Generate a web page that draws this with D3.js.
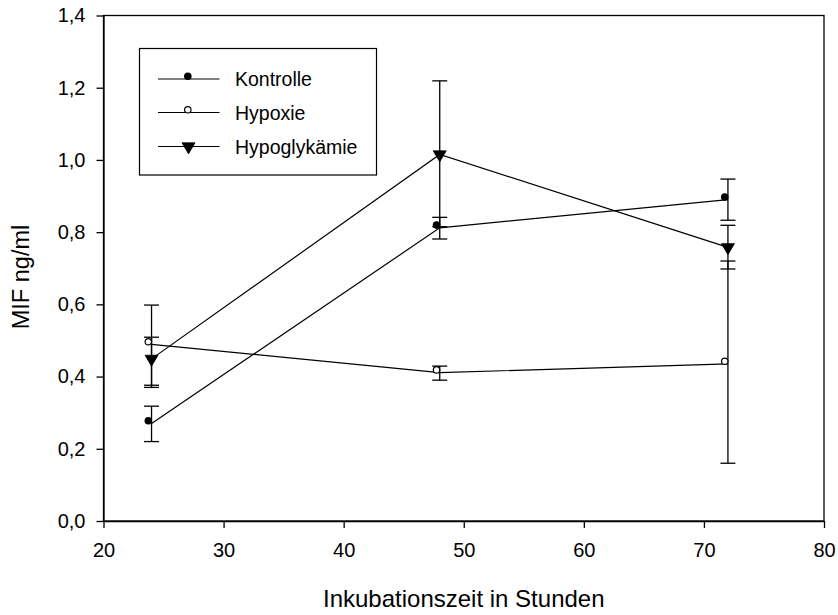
<!DOCTYPE html>
<html>
<head>
<meta charset="utf-8">
<script src="https://cdn.jsdelivr.net/npm/d3@7"></script>
<style>
  html, body { margin: 0; padding: 0; background: #fff; }
  svg { display: block; }
  text { font-family: "Liberation Sans", Arial, sans-serif; fill: #000; }
</style>
</head>
<body>
<svg id="chart" width="838" height="615"></svg>
<script>
// Incubation times (hours)
const hours = [24, 48, 72];

// Series: mean MIF (ng/ml) and upper / lower error-bar ends
const series = ["Kontrolle", "Hypoxie", "Hypoglykämie"];
const kontrolleMean  = [0.27, 0.812, 0.89];
const kontrolleUpper = [0.318, 0.841, 0.947];
const kontrolleLower = [0.22, 0.781, 0.833];
const hypoxieMean    = [0.489, 0.411, 0.435];
const hypoxieUpper   = [0.509, 0.429, 0.72];
const hypoxieLower   = [0.37, 0.39, 0.16];
const hypoglyMean    = [0.449, 1.015, 0.758];
const hypoglyUpper   = [0.598, 1.219, 0.819];
const hypoglyLower   = [0.376, 0.815, 0.698];

// Axis ticks and titles
const xTicks = [20, 30, 40, 50, 60, 70, 80];
const yTicks = [0, 0.2, 0.4, 0.6, 0.8, 1.0, 1.2, 1.4];
const xTitle = "Inkubationszeit in Stunden";
const yTitle = "MIF ng/ml";

const symbols = ["dot", "circle", "triangle"];
const table = [
  { name: series[0], mean: kontrolleMean, upper: kontrolleUpper, lower: kontrolleLower, sym: symbols[0] },
  { name: series[1], mean: hypoxieMean,   upper: hypoxieUpper,   lower: hypoxieLower,   sym: symbols[1] },
  { name: series[2], mean: hypoglyMean,   upper: hypoglyUpper,   lower: hypoglyLower,   sym: symbols[2] }
];

const svg = d3.select("#chart");
const plotL = 103.5, plotR = 824, plotT = 15.5, plotB = 521;

const x = d3.scaleLinear().domain([20, 80]).range([plotL, plotR]);
const y = d3.scaleLinear().domain([0, 1.4]).range([plotB, plotT]);
const fmt = v => d3.format(".1f")(v).replace(".", ",");

// frame
svg.append("rect")
  .attr("x", plotL).attr("y", plotT)
  .attr("width", plotR - plotL).attr("height", plotB - plotT)
  .attr("fill", "none").attr("stroke", "#000").attr("stroke-width", 1.3);

// axes
const xAxis = d3.axisBottom(x).tickValues(xTicks).tickFormat(d3.format("d"))
  .tickSize(7).tickPadding(15).tickSizeOuter(0);
const yAxis = d3.axisLeft(y).tickValues(yTicks).tickFormat(fmt)
  .tickSize(7).tickPadding(11).tickSizeOuter(0);

const gx = svg.append("g").attr("transform", `translate(0,${plotB})`).call(xAxis);
const gy = svg.append("g").attr("transform", `translate(${plotL},0)`).call(yAxis);
[gx, gy].forEach(g => {
  g.select(".domain").attr("stroke", "#000").attr("stroke-width", 1.3);
  g.selectAll(".tick line").attr("stroke", "#000").attr("stroke-width", 1.3);
  g.selectAll(".tick text").attr("font-size", 20).attr("fill", "#000")
    .attr("font-family", "Liberation Sans, Arial, sans-serif");
});

// axis titles
svg.append("text")
  .attr("x", (plotL + plotR) / 2).attr("y", 606.5)
  .attr("text-anchor", "middle").attr("font-size", 24)
  .text(xTitle);
svg.append("text")
  .attr("transform", `translate(29,277) rotate(-90)`)
  .attr("text-anchor", "middle").attr("font-size", 23.5)
  .text(yTitle);

// symbol drawing; circles sit slightly up-left of the data point
const dotShift = [-3.2, -2.7];
function drawSymbol(g, sym, cx, cy) {
  if (sym === "triangle") {
    const w = 13, h = 11;
    // centroid placed on the point (apex pointing down)
    g.append("path")
      .attr("d", `M${cx - w / 2},${cy - h / 3}L${cx + w / 2},${cy - h / 3}L${cx},${cy + 2 * h / 3}Z`)
      .attr("fill", "#000").attr("stroke", "#000").attr("stroke-width", 0.8);
  } else if (sym === "dot") {
    g.append("circle").attr("cx", cx + dotShift[0]).attr("cy", cy + dotShift[1])
      .attr("r", 3.8).attr("fill", "#000");
  } else {
    g.append("circle").attr("cx", cx + dotShift[0]).attr("cy", cy + dotShift[1])
      .attr("r", 3.2).attr("fill", "#fff").attr("stroke", "#000").attr("stroke-width", 1.2);
  }
}

const capHalf = 7.5;
const line = d3.line().x(d => x(d[0])).y(d => y(d[1]));

table.forEach(s => {
  const g = svg.append("g");
  const pts = hours.map((h, i) => [h, s.mean[i]]);
  // error bars
  hours.forEach((h, i) => {
    const cx = x(h);
    g.append("line").attr("x1", cx).attr("x2", cx)
      .attr("y1", y(s.upper[i])).attr("y2", y(s.lower[i]))
      .attr("stroke", "#000").attr("stroke-width", 1.3);
    [s.upper[i], s.lower[i]].forEach(v => {
      g.append("line").attr("x1", cx - capHalf).attr("x2", cx + capHalf)
        .attr("y1", y(v)).attr("y2", y(v))
        .attr("stroke", "#000").attr("stroke-width", 1.3);
    });
  });
  // connecting line
  g.append("path").attr("d", line(pts))
    .attr("fill", "none").attr("stroke", "#000").attr("stroke-width", 1.2);
  // markers
  pts.forEach(p => drawSymbol(g, s.sym, x(p[0]), y(p[1])));
});

// legend
const lg = svg.append("g");
lg.append("rect").attr("x", 139.5).attr("y", 48.5).attr("width", 237).attr("height", 126.5)
  .attr("fill", "#fff").attr("stroke", "#000").attr("stroke-width", 1.2);
const rowY = [79, 112.5, 146.5];
table.forEach((s, i) => {
  const ly = rowY[i];
  lg.append("line").attr("x1", 158).attr("x2", 219.5).attr("y1", ly).attr("y2", ly)
    .attr("stroke", "#000").attr("stroke-width", 1.2);
  drawSymbol(lg, s.sym, s.sym === "triangle" ? 188.5 : 191, ly);
  lg.append("text").attr("x", 235).attr("y", ly + 7).attr("font-size", 19.5).text(s.name);
});
</script>
</body>
</html>
